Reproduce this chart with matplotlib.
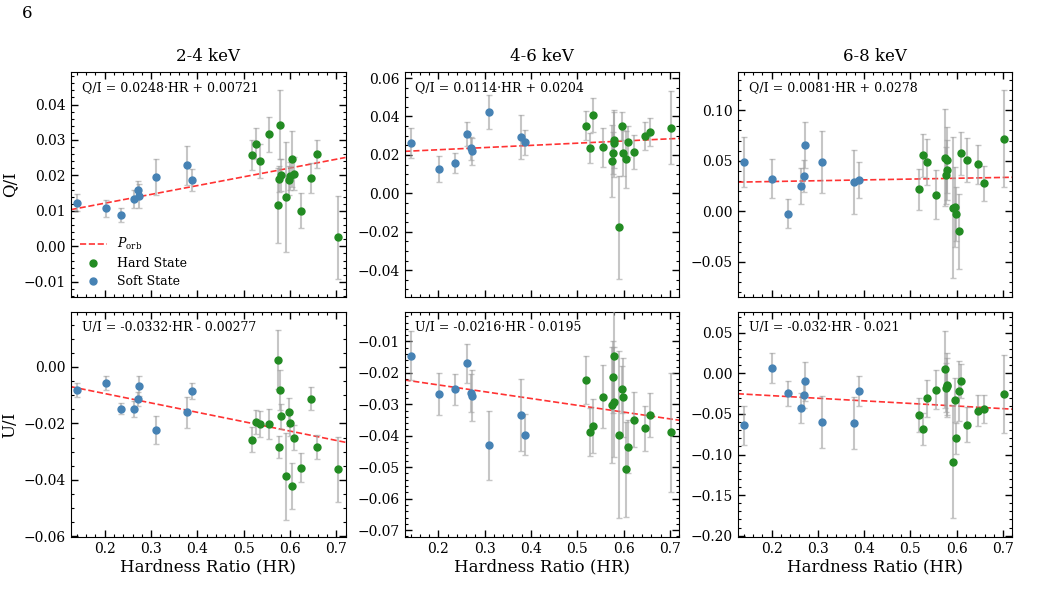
import matplotlib
matplotlib.use("Agg")
import matplotlib.pyplot as plt
import numpy as np
from matplotlib.lines import Line2D
from matplotlib.ticker import AutoMinorLocator, MultipleLocator

plt.rcParams["font.family"] = "DejaVu Serif"
plt.rcParams["mathtext.fontset"] = "dejavuserif"

# ---------------------------------------------------------------------------
# Data
# ---------------------------------------------------------------------------

bands = ["2-4 keV", "4-6 keV", "6-8 keV"]

hr_soft = [0.141, 0.202, 0.235, 0.263, 0.271, 0.273, 0.310, 0.378, 0.388]
hr_hard = [0.519, 0.527, 0.535, 0.555, 0.575, 0.577, 0.579, 0.580, 0.591,
           0.597, 0.599, 0.605, 0.609, 0.623, 0.646, 0.658, 0.703]

# Q/I, 2-4 keV
q24_soft = [0.0123, 0.0108, 0.0088, 0.0134, 0.0160, 0.0142, 0.0196, 0.0229, 0.0187]
q24_soft_err = [0.0024, 0.0024, 0.0020, 0.0025, 0.0023, 0.0035, 0.0050, 0.0055, 0.0032]
q24_hard = [0.0257, 0.0290, 0.0240, 0.0316, 0.0116, 0.0190, 0.0343, 0.0200, 0.0140,
            0.0186, 0.0199, 0.0246, 0.0205, 0.0101, 0.0193, 0.0261, 0.0025]
q24_hard_err = [0.0042, 0.0043, 0.0048, 0.0050, 0.0106, 0.0038, 0.0098, 0.0045, 0.0155,
                0.0040, 0.0040, 0.0080, 0.0047, 0.0050, 0.0042, 0.0040, 0.0116]

# Q/I, 4-6 keV
q46_soft = [0.0260, 0.0126, 0.0158, 0.0308, 0.0235, 0.0218, 0.0424, 0.0293, 0.0267]
q46_soft_err = [0.0078, 0.0066, 0.0050, 0.0062, 0.0060, 0.0070, 0.0090, 0.0115, 0.0065]
q46_hard = [0.0352, 0.0234, 0.0407, 0.0239, 0.0168, 0.0211, 0.0277, 0.0260, -0.0178,
            0.0350, 0.0210, 0.0177, 0.0268, 0.0215, 0.0300, 0.0319, 0.0341]
q46_hard_err = [0.0076, 0.0078, 0.0087, 0.0100, 0.0186, 0.0110, 0.0145, 0.0175, 0.0266,
                0.0075, 0.0120, 0.0150, 0.0080, 0.0090, 0.0072, 0.0072, 0.0190]

# Q/I, 6-8 keV
q68_soft = [0.0487, 0.0322, -0.0023, 0.0253, 0.0349, 0.0655, 0.0487, 0.0290, 0.0310]
q68_soft_err = [0.0247, 0.0195, 0.0140, 0.0180, 0.0160, 0.0230, 0.0310, 0.0320, 0.0175]
q68_hard = [0.0217, 0.0553, 0.0487, 0.0164, 0.0530, 0.0355, 0.0507, 0.0408, 0.0036,
            0.0043, -0.0026, -0.0200, 0.0572, 0.0507, 0.0464, 0.0276, 0.0720]
q68_hard_err = [0.0200, 0.0210, 0.0230, 0.0240, 0.0480, 0.0280, 0.0330, 0.0300, 0.0700,
                0.0400, 0.0270, 0.0370, 0.0210, 0.0220, 0.0190, 0.0170, 0.0480]

# U/I, 2-4 keV
u24_soft = [-0.0080, -0.0057, -0.0147, -0.0150, -0.0112, -0.0067, -0.0224, -0.0160, -0.0085]
u24_soft_err = [0.0025, 0.0025, 0.0020, 0.0028, 0.0025, 0.0035, 0.0050, 0.0055, 0.0030]
u24_hard = [-0.0257, -0.0195, -0.0202, -0.0202, 0.0026, -0.0284, -0.0082, -0.0175, -0.0387,
            -0.0160, -0.0200, -0.0421, -0.0250, -0.0356, -0.0112, -0.0284, -0.0363]
u24_hard_err = [0.0043, 0.0043, 0.0046, 0.0052, 0.0105, 0.0039, 0.0071, 0.0044, 0.0154,
                0.0049, 0.0045, 0.0082, 0.0044, 0.0050, 0.0042, 0.0042, 0.0116]

# U/I, 4-6 keV
u46_soft = [-0.0146, -0.0267, -0.0252, -0.0169, -0.0264, -0.0272, -0.0430, -0.0334, -0.0396]
u46_soft_err = [0.0078, 0.0068, 0.0050, 0.0062, 0.0060, 0.0080, 0.0110, 0.0115, 0.0065]
u46_hard = [-0.0222, -0.0389, -0.0370, -0.0276, -0.0302, -0.0212, -0.0146, -0.0292, -0.0397,
            -0.0252, -0.0278, -0.0507, -0.0435, -0.0349, -0.0376, -0.0335, -0.0389]
u46_hard_err = [0.0077, 0.0076, 0.0086, 0.0100, 0.0185, 0.0115, 0.0155, 0.0175, 0.0266,
                0.0075, 0.0125, 0.0150, 0.0085, 0.0088, 0.0072, 0.0070, 0.0190]

# U/I, 6-8 keV
u68_soft = [-0.0640, 0.0066, -0.0246, -0.0426, -0.0262, -0.0098, -0.0600, -0.0607, -0.0217]
u68_soft_err = [0.0240, 0.0190, 0.0150, 0.0180, 0.0160, 0.0240, 0.0320, 0.0320, 0.0180]
u68_hard = [-0.0512, -0.0684, -0.0307, -0.0200, 0.0049, -0.0176, -0.0160, -0.0143, -0.1086,
            -0.0328, -0.0800, -0.0213, -0.0098, -0.0630, -0.0459, -0.0439, -0.0254]
u68_hard_err = [0.0205, 0.0200, 0.0230, 0.0240, 0.0470, 0.0300, 0.0350, 0.0400, 0.0700,
                0.0270, 0.0190, 0.0370, 0.0210, 0.0220, 0.0190, 0.0170, 0.0480]

# linear fits (slope, intercept) per panel
q_slopes = [0.0248, 0.0114, 0.0081]
q_intercepts = [0.00721, 0.0204, 0.0278]
u_slopes = [-0.0332, -0.0216, -0.032]
u_intercepts = [-0.00277, -0.0195, -0.021]

q_fit_labels = ["Q/I = 0.0248\u00b7HR + 0.00721",
                "Q/I = 0.0114\u00b7HR + 0.0204",
                "Q/I = 0.0081\u00b7HR + 0.0278"]
u_fit_labels = ["U/I = -0.0332\u00b7HR - 0.00277",
                "U/I = -0.0216\u00b7HR - 0.0195",
                "U/I = -0.032\u00b7HR - 0.021"]

q_ylims = [(-0.0143, 0.0492), (-0.054, 0.0632), (-0.085, 0.138)]
u_ylims = [(-0.0602, 0.0195), (-0.0722, -0.0006), (-0.2016, 0.0758)]
q_ysteps = [0.01, 0.02, 0.05]
u_ysteps = [0.02, 0.01, 0.05]

XLIM = (0.127, 0.72)

HARD_COLOR = "#228B22"
SOFT_COLOR = "#4682B4"

# ---------------------------------------------------------------------------
# Plot
# ---------------------------------------------------------------------------

fig = plt.figure(figsize=(10.42, 6.01), dpi=100)

col_left = [0.0681, 0.3882, 0.7080]
col_width = 0.2635
row_bottom = [0.5058, 0.1065]
row_height = 0.3745

q_data = [(q24_soft, q24_soft_err, q24_hard, q24_hard_err),
          (q46_soft, q46_soft_err, q46_hard, q46_hard_err),
          (q68_soft, q68_soft_err, q68_hard, q68_hard_err)]
u_data = [(u24_soft, u24_soft_err, u24_hard, u24_hard_err),
          (u46_soft, u46_soft_err, u46_hard, u46_hard_err),
          (u68_soft, u68_soft_err, u68_hard, u68_hard_err)]


def draw_panel(ax, data, slope, intercept, label, ylim, ystep):
    soft, soft_err, hard, hard_err = data
    xx = np.array(XLIM)
    ax.plot(xx, slope * xx + intercept, color="red", linestyle="--",
            linewidth=1.2, alpha=0.8, zorder=2)
    for x, y, e, c in ((hr_hard, hard, hard_err, HARD_COLOR),
                       (hr_soft, soft, soft_err, SOFT_COLOR)):
        cont = ax.errorbar(x, y, yerr=e, fmt="o", color=c, markersize=5,
                           ecolor="#a0a0a0", elinewidth=1.5, capsize=2,
                           zorder=3)
        for art in cont[1] + cont[2]:
            art.set_alpha(0.6)
    ax.set_xlim(*XLIM)
    ax.set_ylim(*ylim)
    ax.set_xticks([0.2, 0.3, 0.4, 0.5, 0.6, 0.7])
    ax.yaxis.set_major_locator(MultipleLocator(ystep))
    ax.text(0.04, 0.93, label, transform=ax.transAxes, fontsize=9,
            va="center", ha="left")
    ax.xaxis.set_minor_locator(AutoMinorLocator())
    ax.yaxis.set_minor_locator(AutoMinorLocator())
    ax.tick_params(which="both", direction="in", top=True, right=True,
                   labelsize=10)
    ax.tick_params(which="major", length=5, width=1)
    ax.tick_params(which="minor", length=2.5, width=0.8)


for i in range(3):
    ax_q = fig.add_axes([col_left[i], row_bottom[0], col_width, row_height])
    draw_panel(ax_q, q_data[i], q_slopes[i], q_intercepts[i],
               q_fit_labels[i], q_ylims[i], q_ysteps[i])
    ax_q.set_title(bands[i], fontsize=12, pad=8)
    ax_q.tick_params(labelbottom=False)
    if i == 0:
        ax_q.set_ylabel("Q/I", fontsize=12)
        handles = [
            Line2D([], [], color="red", linestyle="--", linewidth=1.2, alpha=0.8),
            Line2D([], [], color=HARD_COLOR, marker="o", linestyle="none", markersize=5),
            Line2D([], [], color=SOFT_COLOR, marker="o", linestyle="none", markersize=5),
        ]
        ax_q.legend(handles, [r"$P_{\rm orb}$", "Hard State", "Soft State"],
                    loc="lower left", frameon=False, fontsize=9,
                    handlelength=2.2, borderaxespad=0.3, labelspacing=0.4)

    ax_u = fig.add_axes([col_left[i], row_bottom[1], col_width, row_height])
    draw_panel(ax_u, u_data[i], u_slopes[i], u_intercepts[i],
               u_fit_labels[i], u_ylims[i], u_ysteps[i])
    ax_u.set_xlabel("Hardness Ratio (HR)", fontsize=12, labelpad=2)
    if i == 0:
        ax_u.set_ylabel("U/I", fontsize=12)

fig.text(27 / 1042, 1 - 14 / 601, "6", fontsize=12, va="center", ha="center")

fig.savefig("out.png", dpi=100)
plt.close(fig)
